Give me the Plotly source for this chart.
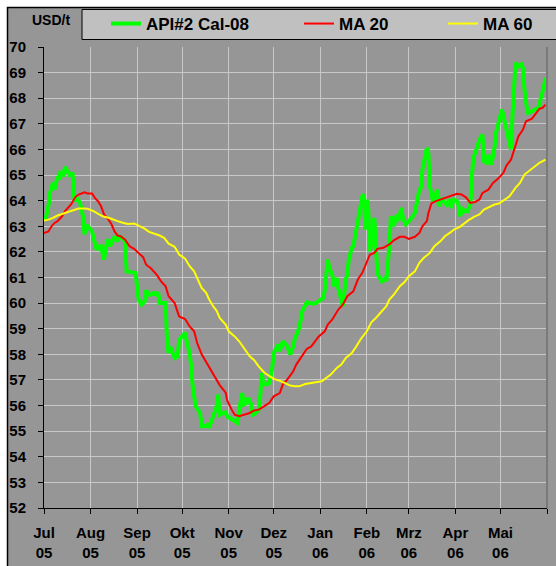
import plotly.graph_objects as go

# ---------------- data ----------------
api_dates = [
    "2005-07-01", "2005-07-02", "2005-07-04", "2005-07-05", "2005-07-07", "2005-07-08", "2005-07-10", "2005-07-11",
    "2005-07-12", "2005-07-14", "2005-07-15", "2005-07-17", "2005-07-18", "2005-07-20", "2005-07-21", "2005-07-22",
    "2005-07-23", "2005-07-25", "2005-07-26", "2005-07-27", "2005-07-28", "2005-07-29", "2005-07-31", "2005-08-02",
    "2005-08-03", "2005-08-05", "2005-08-07", "2005-08-08", "2005-08-10", "2005-08-12", "2005-08-13", "2005-08-14",
    "2005-08-16", "2005-08-17", "2005-08-19", "2005-08-20", "2005-08-22", "2005-08-24", "2005-08-25", "2005-08-28",
    "2005-08-31", "2005-09-02", "2005-09-04", "2005-09-06", "2005-09-07", "2005-09-09", "2005-09-10", "2005-09-12",
    "2005-09-14", "2005-09-15", "2005-09-16", "2005-09-18", "2005-09-20", "2005-09-21", "2005-09-22", "2005-09-23",
    "2005-09-25", "2005-09-26", "2005-09-28", "2005-09-29", "2005-10-01", "2005-10-03", "2005-10-04", "2005-10-06",
    "2005-10-07", "2005-10-08", "2005-10-10", "2005-10-12", "2005-10-13", "2005-10-14", "2005-10-16", "2005-10-18",
    "2005-10-19", "2005-10-20", "2005-10-22", "2005-10-24", "2005-10-25", "2005-10-26", "2005-10-28", "2005-10-30",
    "2005-10-31", "2005-11-02", "2005-11-04", "2005-11-05", "2005-11-07", "2005-11-08", "2005-11-10", "2005-11-11",
    "2005-11-13", "2005-11-14", "2005-11-16", "2005-11-17", "2005-11-19", "2005-11-21", "2005-11-22", "2005-11-23",
    "2005-11-24", "2005-11-26", "2005-11-28", "2005-11-29", "2005-11-30", "2005-12-01", "2005-12-03", "2005-12-04",
    "2005-12-05", "2005-12-07", "2005-12-09", "2005-12-10", "2005-12-12", "2005-12-14", "2005-12-15", "2005-12-17",
    "2005-12-18", "2005-12-19", "2005-12-20", "2005-12-23", "2005-12-25", "2005-12-27", "2005-12-29", "2005-12-31",
    "2006-01-03", "2006-01-04", "2006-01-06", "2006-01-07", "2006-01-09", "2006-01-10", "2006-01-12", "2006-01-13",
    "2006-01-15", "2006-01-16", "2006-01-18", "2006-01-19", "2006-01-20", "2006-01-22", "2006-01-23", "2006-01-25",
    "2006-01-26", "2006-01-27", "2006-01-28", "2006-01-29", "2006-01-30", "2006-01-31", "2006-02-01", "2006-02-02",
    "2006-02-03", "2006-02-04", "2006-02-06", "2006-02-07", "2006-02-08", "2006-02-09", "2006-02-11", "2006-02-13",
    "2006-02-14", "2006-02-16", "2006-02-17", "2006-02-19", "2006-02-21", "2006-02-22", "2006-02-24", "2006-02-25",
    "2006-02-27", "2006-03-01", "2006-03-03", "2006-03-05", "2006-03-06", "2006-03-08", "2006-03-09", "2006-03-10",
    "2006-03-12", "2006-03-13", "2006-03-14", "2006-03-15", "2006-03-17", "2006-03-18", "2006-03-20", "2006-03-21",
    "2006-03-23", "2006-03-24", "2006-03-26", "2006-03-28", "2006-03-29", "2006-03-31", "2006-04-02", "2006-04-03",
    "2006-04-04", "2006-04-06", "2006-04-07", "2006-04-09", "2006-04-11", "2006-04-12", "2006-04-13", "2006-04-15",
    "2006-04-17", "2006-04-19", "2006-04-20", "2006-04-22", "2006-04-23", "2006-04-25", "2006-04-27", "2006-04-28",
    "2006-04-30", "2006-05-02", "2006-05-03", "2006-05-05", "2006-05-06", "2006-05-08", "2006-05-09", "2006-05-10",
    "2006-05-11", "2006-05-13", "2006-05-15", "2006-05-16", "2006-05-17", "2006-05-19", "2006-05-20", "2006-05-22",
    "2006-05-24", "2006-05-26", "2006-05-27", "2006-05-29", "2006-05-30", "2006-05-31",
]
api_values = [
    63.42, 63.26, 63.80, 64.30, 64.70, 64.43, 64.95, 64.82,
    65.15, 64.95, 65.32, 65.15, 65.00, 65.09, 64.17, 63.98,
    64.10, 63.91, 63.65, 63.39, 62.68, 63.07, 62.94, 62.80,
    62.55, 62.09, 62.22, 62.22, 61.70, 62.41, 62.48, 62.22,
    62.48, 62.60, 62.41, 62.60, 62.55, 62.40, 61.24, 61.20,
    61.18, 60.14, 59.94, 60.07, 60.50, 60.33, 60.33, 60.40,
    60.33, 60.42, 60.00, 60.00, 60.00, 58.44, 58.05, 58.31,
    58.05, 57.86, 57.92, 58.57, 58.70, 58.84, 58.51, 58.05,
    57.53, 56.75, 55.97, 55.77, 55.71, 55.19, 55.19, 55.25,
    55.19, 55.30, 55.60, 55.97, 56.43, 55.64, 55.71, 55.73,
    55.58, 55.51, 55.45, 55.38, 55.32, 55.84, 56.49, 56.04,
    56.10, 56.30, 56.04, 55.64, 55.71, 55.84, 56.36, 57.27,
    56.88, 56.82, 56.88, 57.14, 57.47, 58.05, 58.25, 58.38,
    58.12, 58.51, 58.38, 58.31, 57.99, 58.31, 58.60, 58.84,
    59.03, 59.36, 59.68, 60.03, 60.00, 59.98, 60.00, 60.07,
    60.20, 60.53, 61.70, 61.37, 61.11, 60.66, 60.98, 60.59,
    60.20, 59.88, 60.92, 61.11, 61.70, 62.16, 62.22, 62.87,
    63.20, 63.52, 63.85, 64.17, 64.24, 62.87, 64.04, 63.65,
    62.02, 62.35, 63.33, 62.22, 61.18, 61.05, 60.85, 60.98,
    60.85, 62.22, 63.39, 63.00, 63.46, 63.20, 63.72, 63.33,
    63.07, 63.20, 63.33, 63.52, 63.78, 64.43, 64.50, 65.21,
    65.80, 66.06, 65.87, 64.56, 63.98, 64.17, 64.43, 63.78,
    64.10, 63.98, 63.85, 64.04, 63.72, 64.04, 63.98, 63.85,
    63.39, 63.65, 63.59, 63.59, 63.85, 65.00, 65.67, 65.99,
    66.39, 66.58, 65.54, 65.48, 65.80, 65.41, 66.06, 66.65,
    67.10, 67.56, 67.30, 66.78, 66.39, 66.00, 67.30, 68.47,
    69.38, 69.25, 69.32, 69.19, 68.34, 67.43, 67.43, 67.49,
    67.56, 67.58, 67.82, 68.14, 68.47, 68.80,
]

ma20_dates = [
    "2005-07-01", "2005-07-04", "2005-07-06", "2005-07-08", "2005-07-10", "2005-07-13", "2005-07-15", "2005-07-17",
    "2005-07-19", "2005-07-22", "2005-07-24", "2005-07-26", "2005-07-28", "2005-07-30", "2005-08-02", "2005-08-04",
    "2005-08-06", "2005-08-08", "2005-08-10", "2005-08-13", "2005-08-15", "2005-08-17", "2005-08-19", "2005-08-21",
    "2005-08-24", "2005-08-27", "2005-08-30", "2005-09-03", "2005-09-05", "2005-09-07", "2005-09-10", "2005-09-14",
    "2005-09-17", "2005-09-20", "2005-09-22", "2005-09-26", "2005-09-29", "2005-10-03", "2005-10-06", "2005-10-09",
    "2005-10-11", "2005-10-14", "2005-10-16", "2005-10-19", "2005-10-23", "2005-10-26", "2005-10-30", "2005-10-31",
    "2005-11-03", "2005-11-05", "2005-11-08", "2005-11-11", "2005-11-15", "2005-11-18", "2005-11-21", "2005-11-25",
    "2005-11-28", "2005-12-01", "2005-12-05", "2005-12-07", "2005-12-10", "2005-12-14", "2005-12-16", "2005-12-19",
    "2005-12-23", "2005-12-26", "2005-12-29", "2005-12-31", "2006-01-04", "2006-01-06", "2006-01-09", "2006-01-13",
    "2006-01-16", "2006-01-19", "2006-01-23", "2006-01-26", "2006-01-29", "2006-02-01", "2006-02-03", "2006-02-06",
    "2006-02-08", "2006-02-12", "2006-02-16", "2006-02-19", "2006-02-23", "2006-02-26", "2006-03-01", "2006-03-05",
    "2006-03-08", "2006-03-10", "2006-03-13", "2006-03-14", "2006-03-16", "2006-03-19", "2006-03-23", "2006-03-26",
    "2006-03-30", "2006-04-02", "2006-04-05", "2006-04-08", "2006-04-11", "2006-04-14", "2006-04-17", "2006-04-19",
    "2006-04-23", "2006-04-26", "2006-04-28", "2006-04-30", "2006-05-03", "2006-05-05", "2006-05-08", "2006-05-11",
    "2006-05-13", "2006-05-16", "2006-05-18", "2006-05-22", "2006-05-25", "2006-05-27", "2006-05-29", "2006-05-31",
]
ma20_values = [
    62.74, 62.80, 63.00, 63.13, 63.20, 63.39, 63.59, 63.72,
    63.85, 64.15, 64.24, 64.28, 64.33, 64.28, 64.28, 64.10,
    63.98, 63.78, 63.46, 63.26, 63.07, 62.80, 62.64, 62.61,
    62.48, 62.22, 62.12, 61.90, 61.80, 61.50, 61.37, 61.11,
    60.85, 60.66, 60.27, 60.00, 59.48, 59.38, 59.09, 58.90,
    58.44, 58.00, 57.80, 57.45, 57.05, 56.80, 56.50, 56.20,
    55.84, 55.64, 55.58, 55.64, 55.71, 55.81, 55.84, 55.99,
    56.10, 56.36, 56.49, 56.82, 57.01, 57.34, 57.60, 57.86,
    58.21, 58.31, 58.57, 58.70, 58.90, 59.16, 59.36, 59.75,
    59.94, 60.27, 60.46, 60.92, 61.18, 61.57, 61.89, 61.96,
    62.12, 62.16, 62.29, 62.45, 62.59, 62.59, 62.51, 62.59,
    62.74, 63.00, 63.20, 63.52, 63.89, 63.98, 64.07, 64.11,
    64.20, 64.27, 64.24, 64.13, 63.91, 63.95, 64.04, 64.30,
    64.43, 64.69, 64.79, 64.89, 65.09, 65.37, 65.60, 66.13,
    66.52, 66.78, 67.10, 67.20, 67.43, 67.59, 67.62, 67.75,
]

ma60_dates = [
    "2005-07-01", "2005-07-04", "2005-07-07", "2005-07-10", "2005-07-14", "2005-07-17", "2005-07-20", "2005-07-24",
    "2005-07-27", "2005-07-30", "2005-08-03", "2005-08-06", "2005-08-09", "2005-08-13", "2005-08-16", "2005-08-19",
    "2005-08-23", "2005-08-26", "2005-08-30", "2005-09-03", "2005-09-06", "2005-09-09", "2005-09-13", "2005-09-16",
    "2005-09-19", "2005-09-22", "2005-09-26", "2005-09-29", "2005-10-03", "2005-10-06", "2005-10-09", "2005-10-11",
    "2005-10-14", "2005-10-17", "2005-10-19", "2005-10-22", "2005-10-24", "2005-10-26", "2005-10-30", "2005-11-01",
    "2005-11-05", "2005-11-08", "2005-11-11", "2005-11-15", "2005-11-18", "2005-11-21", "2005-11-25", "2005-11-28",
    "2005-12-01", "2005-12-05", "2005-12-08", "2005-12-12", "2005-12-15", "2005-12-18", "2005-12-22", "2005-12-25",
    "2005-12-29", "2006-01-02", "2006-01-05", "2006-01-08", "2006-01-12", "2006-01-15", "2006-01-18", "2006-01-22",
    "2006-01-25", "2006-01-28", "2006-02-01", "2006-02-04", "2006-02-07", "2006-02-11", "2006-02-14", "2006-02-16",
    "2006-02-19", "2006-02-23", "2006-02-26", "2006-03-01", "2006-03-05", "2006-03-08", "2006-03-11", "2006-03-15",
    "2006-03-18", "2006-03-22", "2006-03-25", "2006-03-29", "2006-03-31", "2006-04-04", "2006-04-07", "2006-04-10",
    "2006-04-14", "2006-04-17", "2006-04-20", "2006-04-24", "2006-04-27", "2006-04-30", "2006-05-04", "2006-05-07",
    "2006-05-11", "2006-05-14", "2006-05-17", "2006-05-20", "2006-05-24", "2006-05-27", "2006-05-31",
]
ma60_values = [
    63.23, 63.26, 63.33, 63.42, 63.50, 63.56, 63.63, 63.69,
    63.69, 63.68, 63.59, 63.50, 63.39, 63.33, 63.26, 63.20,
    63.13, 63.09, 63.11, 63.00, 62.91, 62.78, 62.71, 62.64,
    62.55, 62.32, 62.20, 61.90, 61.73, 61.44, 61.24, 60.98,
    60.59, 60.40, 60.14, 59.85, 59.70, 59.42, 59.16, 58.90,
    58.70, 58.51, 58.25, 57.92, 57.77, 57.53, 57.27, 57.17,
    57.04, 56.97, 56.88, 56.78, 56.75, 56.75, 56.84, 56.88,
    56.91, 56.95, 57.08, 57.21, 57.47, 57.60, 57.86, 58.05,
    58.31, 58.60, 58.90, 59.25, 59.42, 59.68, 59.88, 60.14,
    60.33, 60.66, 60.81, 61.05, 61.24, 61.57, 61.77, 61.96,
    62.22, 62.41, 62.61, 62.77, 62.87, 62.98, 63.13, 63.25,
    63.39, 63.46, 63.65, 63.76, 63.85, 63.89, 64.04, 64.17,
    64.50, 64.69, 65.02, 65.15, 65.34, 65.48, 65.60,
]

series_names = ["API#2 Cal-08", "MA 20", "MA 60"]
month_ticks = [
    "2005-07-01", "2005-08-01", "2005-09-01", "2005-10-01", "2005-11-01", "2005-12-01",
    "2006-01-01", "2006-02-01", "2006-03-01", "2006-04-01", "2006-05-01", "2006-06-01",
]
month_labels = ["Jul<br>05", "Aug<br>05", "Sep<br>05", "Okt<br>05", "Nov<br>05", "Dez<br>05",
                "Jan<br>06", "Feb<br>06", "Mrz<br>06", "Apr<br>06", "Mai<br>06", ""]
unit_label = "USD/t"

# ---------------- figure ----------------
W, H = 556, 566
ML, MR, MT, MB = 44, 9, 47, 58
PW, PH = W - ML - MR, H - MT - MB


def px_x(px):
    return (px - ML) / PW


def px_y(py):
    return (H - MB - py) / PH


GRAY = "#969696"
FONT = "Liberation Sans, Arial, sans-serif"

fig = go.Figure()
fig.add_trace(go.Scatter(x=api_dates, y=api_values, mode="lines", name=series_names[0],
                         line=dict(color="#00ff00", width=4), legendwidth=148))
fig.add_trace(go.Scatter(x=ma20_dates, y=ma20_values, mode="lines", name=series_names[1],
                         line=dict(color="#ff0000", width=2), legendwidth=99))
fig.add_trace(go.Scatter(x=ma60_dates, y=ma60_values, mode="lines", name=series_names[2],
                         line=dict(color="#ffff00", width=2), legendwidth=55))

shapes = [
    # chart area with black frame (top/left visible)
    dict(type="rect", xref="paper", yref="paper", x0=px_x(7.5), x1=px_x(W + 20), y0=px_y(H + 20), y1=px_y(7.5),
         fillcolor=GRAY, line=dict(color="black", width=1.5), layer="below"),
    # legend box
    dict(type="rect", xref="paper", yref="paper", x0=px_x(82), x1=px_x(W + 20), y0=px_y(39.5), y1=px_y(9.5),
         fillcolor="#c0c0c0", line=dict(color="black", width=1), layer="below"),
    # right border of plot area
    dict(type="line", xref="paper", yref="paper", x0=1, x1=1, y0=0, y1=1,
         line=dict(color="#7a7a7a", width=2), layer="above"),
]

fig.update_layout(
    width=W, height=H,
    margin=dict(l=ML, r=MR, t=MT, b=MB, pad=0, autoexpand=False),
    paper_bgcolor="white",
    plot_bgcolor=GRAY,
    font=dict(family=FONT, color="black"),
    showlegend=True,
    legend=dict(orientation="h", xref="container", yref="container",
                x=106 / W, y=1 - 6 / H, xanchor="left", yanchor="top",
                bgcolor="rgba(0,0,0,0)", borderwidth=0,
                font=dict(family=FONT, size=17, color="black", weight="bold"),
                itemwidth=30, tracegroupgap=0),
    shapes=shapes,
    annotations=[dict(text=unit_label, xref="paper", yref="paper", x=px_x(51), y=px_y(20.5),
                      showarrow=False, xanchor="center", yanchor="middle",
                      font=dict(family=FONT, size=14, color="black", weight="bold"))],
    xaxis=dict(type="date", range=["2005-07-01", "2006-06-01"],
               tickmode="array", tickvals=month_ticks, ticktext=month_labels,
               showgrid=True, gridcolor="#c8c8c8", gridwidth=1,
               showline=True, linecolor="black", linewidth=1,
               ticks="outside", ticklen=5, tickcolor="black", tickwidth=1,
               tickfont=dict(family=FONT, size=15, color="black", weight="bold"),
               ticklabelstandoff=6, zeroline=False),
    yaxis=dict(range=[52, 70], dtick=1, tick0=52,
               showgrid=True, gridcolor="#c8c8c8", gridwidth=1,
               showline=True, linecolor="black", linewidth=1,
               ticks="outside", ticklen=5, tickcolor="black", tickwidth=1,
               tickfont=dict(family=FONT, size=15, color="black", weight="bold"),
               ticklabelstandoff=9, zeroline=False),
)

fig.write_html("out.html",
               config={"displayModeBar": False},
               post_script="document.body.style.margin='0';document.body.style.padding='0';"
                           "document.documentElement.style.overflow='hidden';")
